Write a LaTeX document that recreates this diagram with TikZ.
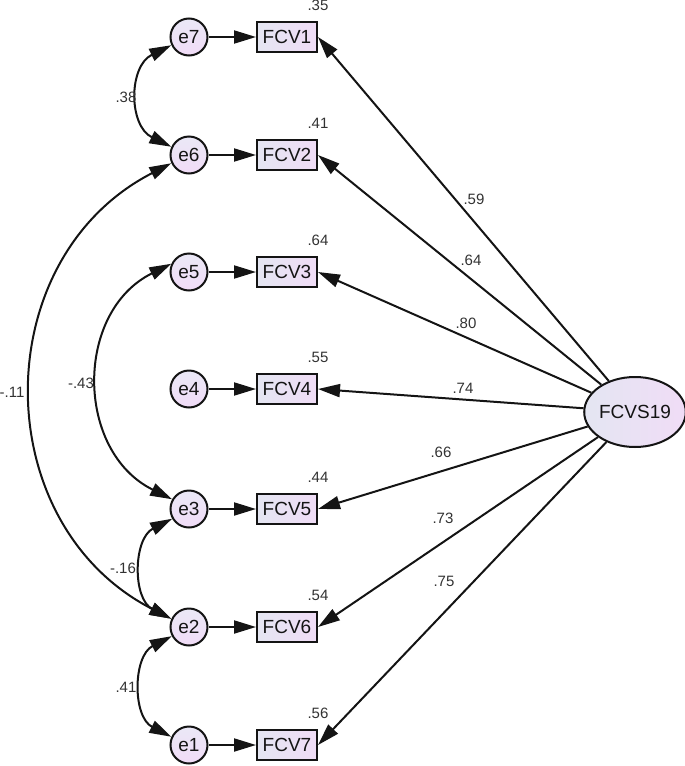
\documentclass[tikz,border=0pt]{standalone}
\usepackage{fontspec}
\setmainfont{Liberation Sans}
\usepackage{tikz}
\usepackage{xcolor}
\usetikzlibrary{arrows.meta,shapes.geometric}

\definecolor{obsleft}{RGB}{228,230,242}
\definecolor{obsright}{RGB}{240,220,246}
\definecolor{errtop}{RGB}{234,232,246}
\definecolor{errbot}{RGB}{241,220,247}
\definecolor{ink}{RGB}{20,20,20}
\definecolor{lblgray}{RGB}{50,50,50}

\begin{document}
\begin{tikzpicture}[x=1pt, y=-1pt,
    err/.style={circle, draw=ink, line width=2pt, minimum size=37pt, inner sep=0pt,
      top color=errtop, bottom color=errbot, text=ink, font=\fontsize{19}{22}\selectfont},
    obs/.style={rectangle, draw=ink, line width=2pt, minimum width=60pt, minimum height=30pt,
      inner sep=0pt, left color=obsleft, right color=obsright, text=ink,
      font=\fontsize{19}{22}\selectfont},
    lat/.style={ellipse, draw=ink, line width=2pt, minimum width=96pt, minimum height=70pt,
      inner sep=0pt, left color=obsleft, right color=obsright, text=ink,
      font=\fontsize{19}{22}\selectfont},
    lbl/.style={inner sep=0pt, text=lblgray, font=\fontsize{15}{17}\selectfont},
    arr/.style={draw=ink, line width=2pt, -{Triangle[length=22pt,width=13pt]}},
    cov/.style={draw=ink, line width=2pt,
      {Triangle[length=22pt,width=13pt]}-{Triangle[length=22pt,width=13pt]}}]
%    \draw [help lines, opacity=0.5] (0,0) grid [step=50] (685,766);
    \useasboundingbox (0,0) rectangle (685,766);

    %% error terms
    \node (e7) [err] at (189,37) {e7};
    \node (e6) [err] at (189,155) {e6};
    \node (e5) [err] at (189,272) {e5};
    \node (e4) [err] at (189,389) {e4};
    \node (e3) [err] at (189,509) {e3};
    \node (e2) [err] at (189,627) {e2};
    \node (e1) [err] at (189,745) {e1};

    %% observed items
    \node (v1) [obs] at (287,37) {FCV1};
    \node (v2) [obs] at (287,155) {FCV2};
    \node (v3) [obs] at (287,272) {FCV3};
    \node (v4) [obs] at (287,389) {FCV4};
    \node (v5) [obs] at (287,509) {FCV5};
    \node (v6) [obs] at (287,627) {FCV6};
    \node (v7) [obs] at (287,745) {FCV7};

    %% latent factor
    \node (F) [lat] at (635,412) {FCVS19};

    %% squared multiple correlations
    \node (r1) [lbl, anchor=south] at ([yshift=10pt]v1.north east) {.35};
    \node (r2) [lbl, anchor=south] at ([yshift=10pt]v2.north east) {.41};
    \node (r3) [lbl, anchor=south] at ([yshift=10pt]v3.north east) {.64};
    \node (r4) [lbl, anchor=south] at ([yshift=10pt]v4.north east) {.55};
    \node (r5) [lbl, anchor=south] at ([yshift=10pt]v5.north east) {.44};
    \node (r6) [lbl, anchor=south] at ([yshift=10pt]v6.north east) {.54};
    \node (r7) [lbl, anchor=south] at ([yshift=10pt]v7.north east) {.56};

    \draw [arr] (e7) -- (v1);
    \draw [arr] (e6) -- (v2);
    \draw [arr] (e5) -- (v3);
    \draw [arr] (e4) -- (v4);
    \draw [arr] (e3) -- (v5);
    \draw [arr] (e2) -- (v6);
    \draw [arr] (e1) -- (v7);

    %% loadings, all ending at the middle of the right side
    \draw [arr] (F) -- (v1.east);
    \draw [arr] (F) -- (v2.east);
    \draw [arr] (F) -- (v3.east);
    \draw [arr] (F) -- (v4.east);
    \draw [arr] (F) -- (v5.east);
    \draw [arr] (F) -- (v6.east);
    \draw [arr] (F) -- (v7.east);

    \node (l1) [lbl] at (474,199) {.59};
    \node (l2) [lbl] at (471,260) {.64};
    \node (l3) [lbl] at (466,323) {.80};
    \node (l4) [lbl] at (463,388) {.74};
    \node (l5) [lbl] at (441,452) {.66};
    \node (l6) [lbl] at (443,518) {.73};
    \node (l7) [lbl] at (444,581) {.75};

    %% error covariances, bulging to the left
    \draw [cov] (e7.205) .. controls +(-43,21) and +(-43,-21) .. (e6.155);
    \draw [cov] (e6.205) .. controls +(-185,95) and +(-185,-95) .. (e2.155);
    \draw [cov] (e5.155) .. controls +(-97,48) and +(-97,-48) .. (e3.150);
    \draw [cov] (e3.210) .. controls +(-39,20) and +(-39,-20) .. (e2.155);
    \draw [cov] (e2.208) .. controls +(-39,20) and +(-39,-20) .. (e1.155);

    \node (c76) [lbl] at (126,97) {.38};
    \node (c53) [lbl] at (81,383) {-.43};
    \node (c62) [lbl] at (12,392) {-.11};
    \node (c32) [lbl] at (123,568) {-.16};
    \node (c21) [lbl] at (126,687) {.41};

\end{tikzpicture}
\end{document}
